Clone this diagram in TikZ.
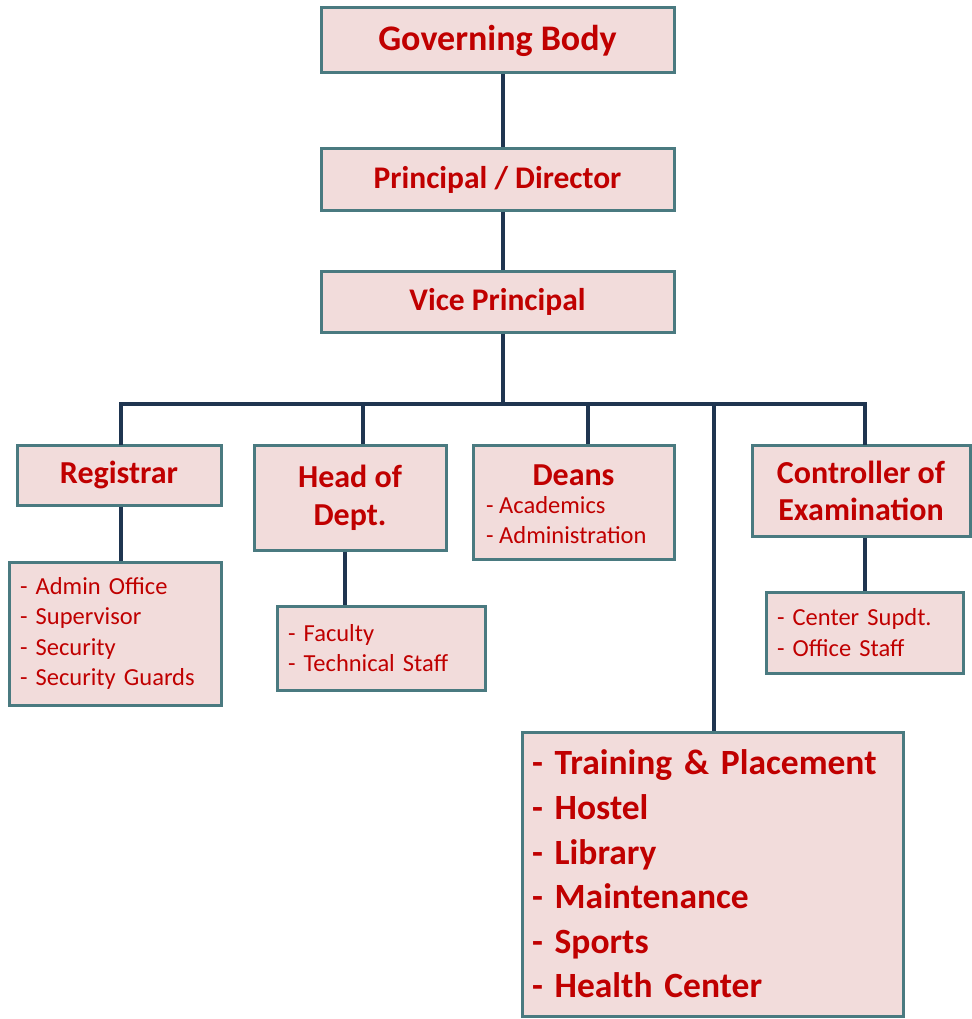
\documentclass[tikz,border=0pt]{standalone}
\usepackage{fontspec}
\setmainfont{Carlito}
\definecolor{boxfill}{HTML}{F2DCDB}
\definecolor{boxline}{HTML}{4A7A80}
\definecolor{conn}{HTML}{1F3550}
\definecolor{txt}{HTML}{C00000}
\begin{document}
\begin{tikzpicture}[x=1pt,y=-1pt,
  box/.style={draw=boxline,fill=boxfill,line width=3pt,rectangle,inner sep=0pt,text=txt,font=\bfseries},
  mid/.style={font=\fontsize{32}{38}\selectfont\bfseries},
  small/.style={font=\fontsize{24.5}{30.5}\selectfont},
  link/.style={draw=conn,line width=3.2pt}]
\useasboundingbox (0,0) rectangle (971,1019);
\fill[white] (0,0) rectangle (971,1019);
% top chain
\node[box,minimum width=353pt,minimum height=65pt,font=\fontsize{36}{40}\selectfont\bfseries] (gov) at (497.5,40.5) {Governing Body};
\node[box,minimum width=353pt,minimum height=61pt,font=\fontsize{31.5}{36}\selectfont\bfseries] (pd) at (497.5,179.5) {Principal / Director};
\node[box,minimum width=353pt,minimum height=61pt,font=\fontsize{31.5}{36}\selectfont\bfseries] (vp) at (497.5,301.5) {Vice Principal};
% second level
\node[box,mid,minimum width=204pt,minimum height=60pt] (reg) at (119,475) {Registrar};
\node[box,mid,minimum width=192pt,minimum height=105pt,align=center] (hod) at (350,497.5) {Head of\\Dept.};
\node[box,minimum width=201pt,minimum height=114pt] (deans) at (573.5,502) {};
\node[text=txt,mid,anchor=base] (deanst) at (573.5,485) {Deans};
\node[text=txt,small,anchor=north west,align=left,inner sep=0pt] (deansl) at (486,496) {- Academics\\- Administration};
\node[box,mid,minimum width=218pt,minimum height=91pt,align=center,font=\fontsize{32}{37}\selectfont\bfseries] (coe) at (861,490.5) {Controller of\\Examination};
% third level
\node[box,small,minimum width=212pt,minimum height=143pt,text width=190pt,align=left] (regsub) at (115,633.5) {- Admin Office\\- Supervisor\\- Security\\- Security Guards};
\node[box,small,minimum width=208pt,minimum height=84pt,text width=186pt,align=left] (hodsub) at (381,648) {- Faculty\\- Technical Staff};
\node[box,small,minimum width=197pt,minimum height=81pt,text width=175pt,align=left] (coesub) at (864.5,632.5) {- Center Supdt.\\- Office Staff};
\node[box,font=\fontsize{35.5}{44.6}\selectfont\bfseries,minimum width=381pt,minimum height=284pt,text width=361pt,align=left] (bigbox) at (712.5,874) {- Training \& Placement\\- Hostel\\- Library\\- Maintenance\\- Sports\\- Health Center};
% connectors
\coordinate (bus) at (503,404);
\draw[link] ([xshift=5.5pt]gov.south) -- ([xshift=5.5pt]pd.north);
\draw[link] ([xshift=5.5pt]pd.south) -- ([xshift=5.5pt]vp.north);
\draw[link] ([xshift=5.5pt]vp.south) -- (bus);
\draw[link,line cap=rect] ([xshift=2pt]reg.north) |- (bus);
\draw[link] ([xshift=13pt]hod.north) |- (bus);
\draw[link] ([xshift=14.5pt]deans.north) |- (bus);
\draw[link] ([xshift=1.5pt]bigbox.north) |- (bus);
\draw[link,line cap=rect] ([xshift=4pt]coe.north) |- (bus);
\draw[link] ([xshift=2pt]reg.south) -- ([xshift=2pt]reg.south |- regsub.north);
\draw[link] ([xshift=-5pt]hod.south) -- ([xshift=-5pt]hod.south |- hodsub.north);
\draw[link] ([xshift=4pt]coe.south) -- ([xshift=4pt]coe.south |- coesub.north);
\end{tikzpicture}
\end{document}
